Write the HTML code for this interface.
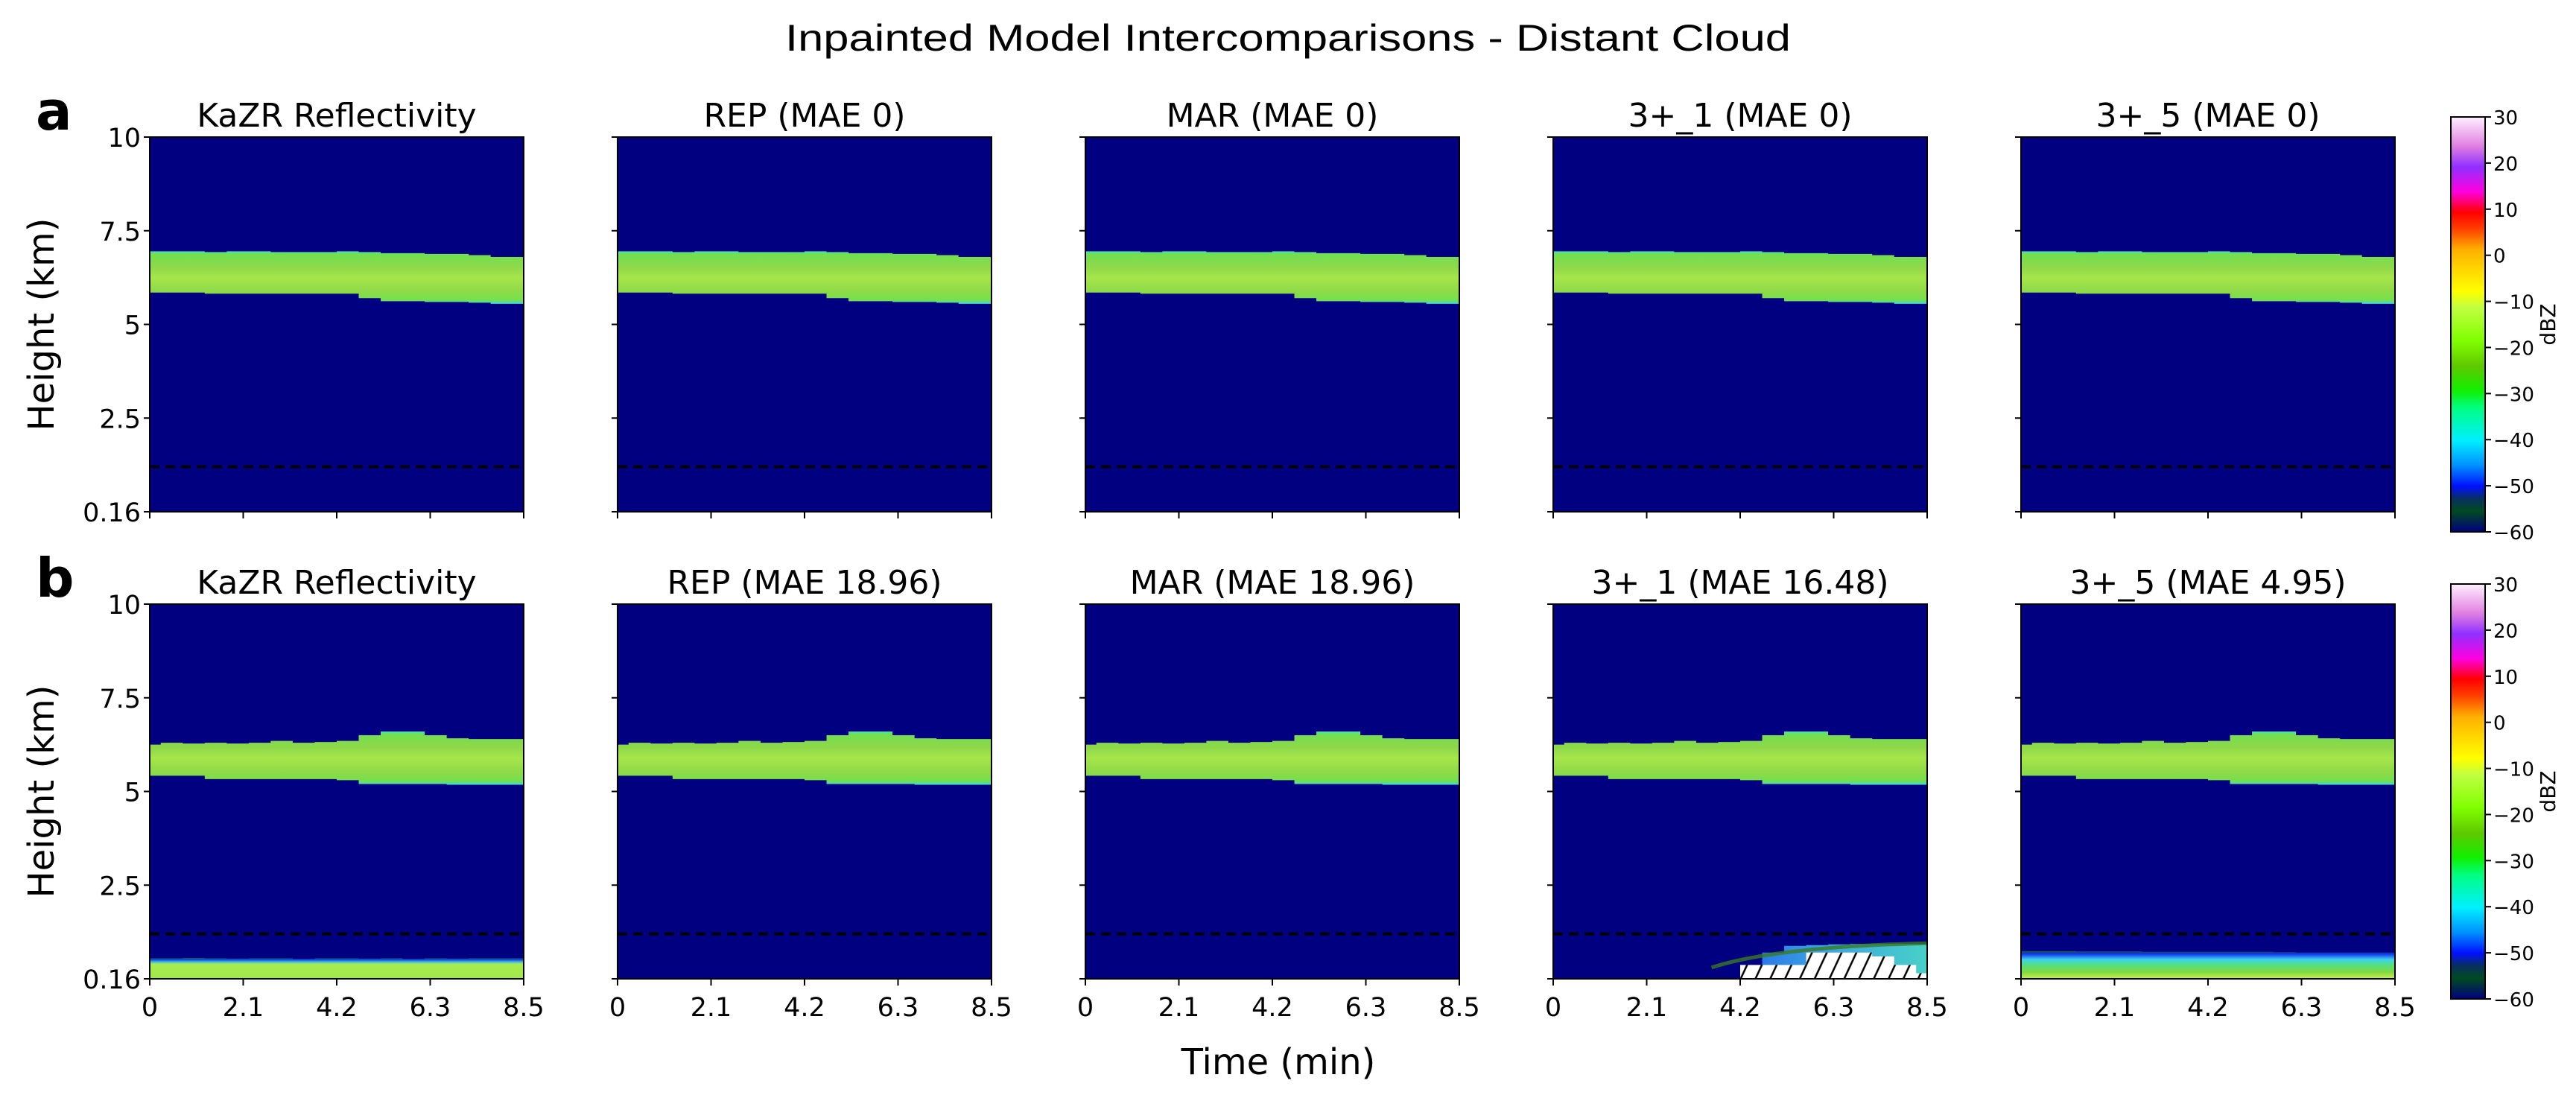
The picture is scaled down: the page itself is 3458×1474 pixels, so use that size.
<!DOCTYPE html>
<html><head><meta charset="utf-8"><style>
html,body{margin:0;padding:0;background:#fff;}
svg{display:block;}
</style></head><body>
<svg id="fig" width="3458" height="1474" viewBox="0 0 3458 1474" xmlns="http://www.w3.org/2000/svg" font-family="DejaVu Sans, Liberation Sans, sans-serif">
<defs>
<linearGradient id="band" x1="0" y1="0" x2="0" y2="1">
<stop offset="0" stop-color="#45e0c0"/><stop offset="0.05" stop-color="#70e050"/>
<stop offset="0.3" stop-color="#8fd84a"/><stop offset="0.5" stop-color="#a6e64a"/>
<stop offset="0.75" stop-color="#90da48"/><stop offset="0.93" stop-color="#74e04c"/>
<stop offset="1" stop-color="#40d8e0"/></linearGradient>
<linearGradient id="surf1" x1="0" y1="0" x2="0" y2="1">
<stop offset="0" stop-color="#1a5a30"/><stop offset="0.08" stop-color="#1040e0"/>
<stop offset="0.2" stop-color="#40c0e0"/><stop offset="0.3" stop-color="#a8ec50"/>
<stop offset="1" stop-color="#a0e84a"/></linearGradient>
<linearGradient id="surf5" x1="0" y1="0" x2="0" y2="1">
<stop offset="0" stop-color="#1a5a30"/><stop offset="0.1" stop-color="#1030f0"/>
<stop offset="0.3" stop-color="#40d0f0"/><stop offset="0.5" stop-color="#50e080"/>
<stop offset="0.75" stop-color="#80d840"/><stop offset="1" stop-color="#c8f050"/></linearGradient>
<linearGradient id="glow" x1="0" y1="0" x2="1" y2="0">
<stop offset="0" stop-color="#000080" stop-opacity="0"/><stop offset="0.3" stop-color="#1040f0"/>
<stop offset="0.7" stop-color="#40b0f0"/><stop offset="1" stop-color="#50e8d0"/></linearGradient>
<linearGradient id="cbar" x1="0" y1="1" x2="0" y2="0">
<stop offset="0" stop-color="#000080"/><stop offset="0.05" stop-color="#004a20"/>
<stop offset="0.08" stop-color="#083060"/><stop offset="0.11" stop-color="#0010ff"/>
<stop offset="0.16" stop-color="#0090ff"/><stop offset="0.22" stop-color="#00f0ff"/>
<stop offset="0.3" stop-color="#00ff80"/><stop offset="0.34" stop-color="#10f000"/>
<stop offset="0.4" stop-color="#60c800"/><stop offset="0.46" stop-color="#80ff00"/>
<stop offset="0.54" stop-color="#c0ff40"/><stop offset="0.58" stop-color="#ffff00"/>
<stop offset="0.64" stop-color="#ffd000"/><stop offset="0.68" stop-color="#ffb000"/>
<stop offset="0.73" stop-color="#ff4000"/><stop offset="0.77" stop-color="#ff0000"/>
<stop offset="0.82" stop-color="#ff00e0"/><stop offset="0.88" stop-color="#9030ff"/>
<stop offset="0.93" stop-color="#e080e0"/><stop offset="1" stop-color="#fff0ff"/></linearGradient>
<pattern id="hatch" width="18" height="18" patternUnits="userSpaceOnUse" patternTransform="rotate(25)">
<rect width="18" height="18" fill="#fff"/><line x1="9" y1="0" x2="9" y2="18" stroke="#000" stroke-width="2.5"/></pattern>
</defs>
<text x="1729" y="68" text-anchor="middle" font-family="Liberation Sans, sans-serif" font-size="50" textLength="1350" lengthAdjust="spacingAndGlyphs">Inpainted Model Intercomparisons - Distant Cloud</text>
<g id="content"></g>
</svg>
<script>
// ---- data ----
var timeBins = [0,0.5,1,1.5,2,2.5,3,3.5,4,4.5,5,5.5,6,6.5,7,7.5,8,8.5];
var cloudTopA = [6.95,6.95,6.95,6.93,6.95,6.95,6.93,6.93,6.93,6.95,6.93,6.9,6.9,6.88,6.88,6.85,6.8,6.8];
var cloudBotA = [5.85,5.85,5.85,5.82,5.82,5.82,5.82,5.82,5.82,5.82,5.7,5.62,5.62,5.6,5.6,5.58,5.55,5.55];
var cloudTopB = [6.25,6.3,6.28,6.3,6.28,6.3,6.35,6.3,6.32,6.35,6.5,6.6,6.6,6.5,6.42,6.4,6.4,6.4];
var cloudBotB = [5.42,5.42,5.42,5.33,5.33,5.33,5.33,5.33,5.33,5.3,5.2,5.2,5.2,5.2,5.18,5.18,5.18,5.18];
var surfTopB1 = [0.55,0.55,0.56,0.55,0.54,0.55,0.55,0.53,0.55,0.55,0.54,0.55,0.53,0.55,0.54,0.55,0.55,0.55];
var surfTopB5 = [0.74,0.74,0.74,0.73,0.73,0.73,0.72,0.72,0.72,0.72,0.72,0.72,0.71,0.7,0.7,0.7,0.7,0.7];
var glowTopB4 = [0,0,0,0,0,0,0,0,0,0,0.7,0.88,0.9,0.92,0.93,0.93,0.93,0.93];
var hatchTopB4 = [0,0,0,0,0,0,0,0,0,0.37,0.37,0.37,0.7,0.7,0.7,0.6,0.37,0.15];
var dashHeight = 1.2;
var yTicks = [10,7.5,5,2.5,0];
var yTickLabels = ["10","7.5","5","2.5","0.16"];
var xTicks = [0,2.125,4.25,6.375,8.5];
var xTickLabels = ["0","2.1","4.2","6.3","8.5"];
var cbTicks = [30,20,10,0,-10,-20,-30,-40,-50,-60];
var titlesA = ["KaZR Reflectivity","REP (MAE 0)","MAR (MAE 0)","3+_1 (MAE 0)","3+_5 (MAE 0)"];
var titlesB = ["KaZR Reflectivity","REP (MAE 18.96)","MAR (MAE 18.96)","3+_1 (MAE 16.48)","3+_5 (MAE 4.95)"];

// ---- layout ----
var NS = "http://www.w3.org/2000/svg";
var root = document.getElementById("content");
var panelLeft = [201,829,1457,2085,2713], PW = 502, PH = 503, rowTop = [184,811];
function el(tag, attrs, parent){var e=document.createElementNS(NS,tag);for(var k in attrs)e.setAttribute(k,attrs[k]);(parent||root).appendChild(e);return e;}
function xs(left){return function(t){return left+PW*t/8.5;};}
function ys(top){return function(h){return top+PH*(1-h/10);};}
function stepPoly(X,Y,tops,bots){
  var up=[],dn=[];
  for(var i=0;i<timeBins.length;i++){
    var t0=timeBins[i]-0.25,t1=timeBins[i]+0.25; if(t0<0)t0=0; if(t1>8.5)t1=8.5;
    up.push(X(t0)+","+Y(tops[i]));up.push(X(t1)+","+Y(tops[i]));
    var b=(typeof bots==="number")?bots:bots[i];
    dn.unshift(X(t0)+","+Y(b));dn.unshift(X(t1)+","+Y(b));
  }
  return up.concat(dn).join(" ");
}
for(var r=0;r<2;r++){
  for(var p=0;p<5;p++){
    var L=panelLeft[p],T=rowTop[r],X=xs(L),Y=ys(T);
    var g=el("g",{});
    
    
    var bg=el("rect",{x:L,y:T,width:PW,height:PH,fill:"#000080"},g);
    
    
    var band=el("polygon",{points:stepPoly(X,Y,r?cloudTopB:cloudTopA,r?cloudBotB:cloudBotA),fill:"url(#band)"},g);
    
    
    if(r===1&&p===0){
      var s1=el("polygon",{points:stepPoly(X,Y,surfTopB1,0),fill:"url(#surf1)"},g);
      
      
    }
    if(r===1&&p===4){
      var s5=el("polygon",{points:stepPoly(X,Y,surfTopB5,0),fill:"url(#surf5)"},g);
      
      
    }
    if(r===1&&p===3){
      var gl=el("polygon",{points:stepPoly(X,Y,glowTopB4,0),fill:"url(#glow)",opacity:"0.9"},g);
      
      
      var gline=el("path",{d:"M"+X(3.6)+","+Y(0.3)+" Q"+X(5)+","+Y(0.85)+" "+X(8.5)+","+Y(0.95),fill:"none",stroke:"#3a7a20",'stroke-width':5,opacity:"0.8"},g);
      
      
      var ht=el("polygon",{points:stepPoly(X,Y,hatchTopB4,0),fill:"url(#hatch)"},g);
      
      
    }
    var dl=el("line",{x1:L,x2:L+PW,y1:Y(dashHeight),y2:Y(dashHeight),stroke:"#000","stroke-width":4,"stroke-dasharray":"13 8"},g);
    
    
    var fr=el("rect",{x:L,y:T,width:PW,height:PH,fill:"none",stroke:"#000","stroke-width":2},g);
    
    
    for(var i=0;i<yTicks.length;i++){
      var tk=el("line",{x1:L-8,x2:L,y1:Y(yTicks[i]),y2:Y(yTicks[i]),stroke:"#000","stroke-width":2},g);
      
      
      if(p===0){
        var tl=el("text",{x:L-12,y:Y(yTicks[i])+13,"text-anchor":"end","font-size":35},g);
        tl.textContent=yTickLabels[i];
        
        
      }
    }
    for(var j=0;j<xTicks.length;j++){
      var xt=el("line",{x1:X(xTicks[j]),x2:X(xTicks[j]),y1:T+PH,y2:T+PH+9,stroke:"#000","stroke-width":2},g);
      
      
      if(r===1){
        var xl=el("text",{x:X(xTicks[j]),y:T+PH+50,"text-anchor":"middle","font-size":35},g);
        xl.textContent=xTickLabels[j];
        
        
      }
    }
    var ti=el("text",{x:L+PW/2,y:T-14,"text-anchor":"middle","font-size":44},g);
    ti.textContent=(r?titlesB:titlesA)[p];
    
    
  }
  var yl=el("text",{x:0,y:0,"text-anchor":"middle","font-size":48,transform:"translate(72,"+(rowTop[r]+PH/2)+") rotate(-90)"});
  yl.textContent="Height (km)";
  
  
  var pl=el("text",{x:48,y:rowTop[r]-10,"font-size":72,"font-weight":"bold"});
  pl.textContent=r?"b":"a";
  
  
  var cbT=rowTop[r]-27,cbH=PH+54,cbX=3290,cbW=46;
  var cb=el("rect",{x:cbX,y:cbT,width:cbW,height:cbH,fill:"url(#cbar)",stroke:"#000","stroke-width":2});
  
  
  for(var k=0;k<cbTicks.length;k++){
    var cy=cbT+cbH*(30-cbTicks[k])/90;
    var ct=el("line",{x1:cbX+cbW,x2:cbX+cbW+8,y1:cy,y2:cy,stroke:"#000","stroke-width":2});
    
    
    var cl=el("text",{x:cbX+cbW+11,y:cy+10,"font-size":26});
    cl.textContent=(cbTicks[k]<0?"\u2212"+(-cbTicks[k]):String(cbTicks[k]));
    
    
  }
  var cu=el("text",{x:0,y:0,"text-anchor":"middle","font-size":28,transform:"translate(3430,"+(rowTop[r]+PH/2)+") rotate(-90)"});
  cu.textContent="dBZ";
  
  
}
var xt=el("text",{x:1716,y:1442,"text-anchor":"middle","font-size":48});
xt.textContent="Time (min)";


</script>
</body></html>
